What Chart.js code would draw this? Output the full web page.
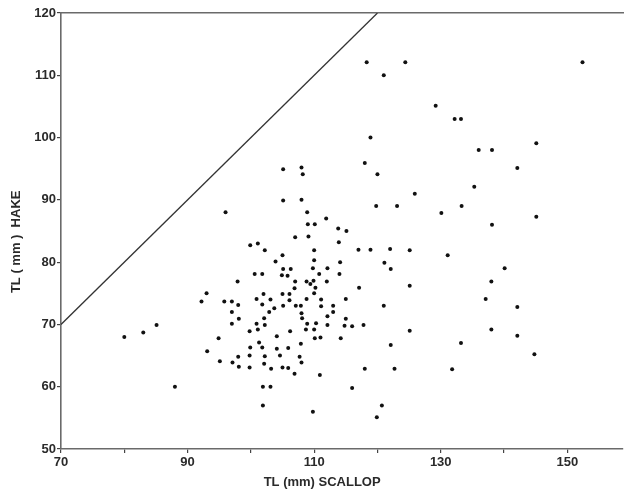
<!DOCTYPE html>
<html lang="en">
<head>
    <meta charset="UTF-8">
    <title>TL Hake vs Scallop</title>
    <script src="https://cdn.jsdelivr.net/npm/chart.js"></script>
    <style>
        html, body { margin: 0; padding: 0; background: #fff; }
        .chart-container { width: 627px; height: 490px; }
    </style>
</head>
<body>
    <div class="chart-container">
        <canvas id="scatterChart" width="627" height="490"></canvas>
    </div>

    <script>
        // scallop total length (x) and hake total length (y), mm
        const scallopTL = [
            118.3, 124.4, 152.4, 121.0, 129.2, 132.2, 133.2, 118.9, 145.1, 136.0,
            138.1, 118.0, 108.0, 105.1, 108.2, 120.0, 142.1, 135.3, 125.9, 105.1,
            108.0, 119.8, 123.1, 133.3, 130.1, 145.1, 96.0, 108.9, 111.9, 109.0,
            110.1, 138.1, 113.8, 115.1, 107.0, 109.1, 113.9, 99.9, 101.1, 102.2,
            110.0, 117.0, 118.9, 122.0, 125.1, 131.1, 105.0, 110.0, 103.9, 114.1,
            121.1, 122.1, 140.1, 100.6, 101.8, 105.1, 106.3, 104.9, 105.8, 109.8,
            110.8, 112.1, 114.0, 97.9, 107.0, 108.8, 109.9, 112.0, 138.0, 109.4,
            106.9, 110.2, 117.1, 125.1, 93.0, 92.2, 95.8, 97.0, 98.0, 100.9,
            102.0, 103.1, 105.0, 106.1, 106.1, 108.8, 110.0, 111.1, 115.0, 137.1,
            101.8, 103.7, 102.9, 105.1, 107.1, 107.9, 111.1, 113.0, 142.1, 121.0,
            97.0, 113.0, 108.0, 108.1, 102.1, 98.1, 112.1, 115.0, 97.0, 100.9,
            102.2, 108.9, 110.3, 112.1, 114.8, 116.0, 117.8, 85.1, 83.0, 80.0,
            99.8, 101.1, 106.2, 108.7, 110.0, 125.1, 138.0, 94.9, 104.1, 110.1,
            111.0, 114.2, 142.1, 101.3, 107.9, 122.1, 133.2, 93.1, 99.9, 101.8,
            104.1, 105.9, 98.0, 99.8, 102.2, 104.6, 107.7, 95.1, 97.1, 102.1,
            108.0, 144.8, 98.1, 99.8, 103.2, 105.0, 105.9, 106.9, 110.9, 118.0,
            122.7, 131.8, 88.0, 101.9, 103.1, 116.0, 101.9, 120.7, 109.8, 119.9
        ];
        const hakeTL = [
            112.1, 112.1, 112.1, 110.0, 105.1, 103.0, 103.0, 100.0, 99.1, 98.0,
            98.0, 95.9, 95.2, 94.9, 94.1, 94.1, 95.1, 92.1, 91.0, 89.9,
            90.0, 89.0, 89.0, 89.0, 87.9, 87.3, 88.0, 88.0, 87.0, 86.1,
            86.1, 86.0, 85.4, 85.0, 84.0, 84.1, 83.2, 82.7, 83.0, 81.9,
            81.9, 82.0, 82.0, 82.1, 81.9, 81.1, 81.1, 80.3, 80.1, 80.0,
            79.9, 78.9, 79.0, 78.1, 78.1, 78.9, 78.9, 77.9, 77.8, 79.0,
            78.1, 79.0, 78.1, 76.9, 76.9, 76.9, 77.0, 76.9, 76.9, 76.5,
            75.8, 75.9, 75.9, 76.2, 75.0, 73.7, 73.7, 73.7, 73.1, 74.1,
            74.9, 74.0, 74.9, 74.9, 73.9, 74.1, 75.0, 74.0, 74.1, 74.1,
            73.2, 72.6, 72.0, 73.0, 73.0, 73.0, 72.9, 73.0, 72.8, 73.0,
            72.0, 72.0, 71.8, 71.0, 71.0, 70.9, 71.3, 70.9, 70.1, 70.1,
            69.9, 70.1, 70.2, 69.9, 69.8, 69.7, 69.9, 69.9, 68.7, 68.0,
            68.9, 69.2, 68.9, 69.2, 69.2, 69.0, 69.2, 67.8, 68.1, 67.8,
            67.9, 67.8, 68.2, 67.1, 66.9, 66.7, 67.0, 65.7, 66.3, 66.3,
            66.1, 66.2, 64.8, 65.0, 64.9, 65.0, 64.8, 64.1, 63.9, 63.7,
            63.9, 65.2, 63.2, 63.1, 62.9, 63.1, 63.0, 62.1, 61.9, 62.9,
            62.9, 62.8, 60.0, 60.0, 60.0, 59.8, 57.0, 57.0, 56.0, 55.1
        ];
        // 1:1 reference line
        const lineX = [70, 120];
        const lineY = [70, 120];

        const xTickLabels = [70, 90, 110, 130, 150];
        const yTickValues = [50, 60, 70, 80, 90, 100, 110, 120];

        const points = scallopTL.map((x, i) => ({ x: x, y: hakeTL[i] }));
        const linePoints = lineX.map((x, i) => ({ x: x, y: lineY[i] }));

        const font = { family: 'Liberation Sans', size: 13, weight: 'bold' };
        const ink = '#2a2a2a';
        const axisGray = '#6a6a6a';

        const ctx = document.getElementById('scatterChart').getContext('2d');
        new Chart(ctx, {
            type: 'scatter',
            data: {
                datasets: [
                    {
                        label: 'fish',
                        data: points,
                        pointRadius: 2,
                        pointBackgroundColor: '#111',
                        pointBorderWidth: 0
                    },
                    {
                        type: 'line',
                        label: '1:1',
                        data: linePoints,
                        borderColor: '#333',
                        borderWidth: 1.3,
                        pointRadius: 0,
                        fill: false
                    }
                ]
            },
            options: {
                responsive: false,
                animation: false,
                layout: { padding: 0 },
                plugins: { legend: { display: false }, tooltip: { enabled: false } },
                scales: {
                    x: {
                        type: 'linear',
                        position: 'bottom',
                        min: 70,
                        max: 158.8,
                        border: { display: true, color: axisGray, width: 1.6 },
                        grid: { drawOnChartArea: false, drawTicks: true, tickLength: 4, color: '#444', lineWidth: 1.2 },
                        ticks: {
                            stepSize: 10,
                            includeBounds: false,
                            color: ink,
                            font: font,
                            padding: 2,
                            maxRotation: 0,
                            autoSkip: false,
                            callback: v => xTickLabels.includes(v) ? String(v) : ''
                        },
                        // trailing spaces nudge the centred title left, as in the original
                        title: { display: true, text: 'TL (mm) SCALLOP           ', color: ink, font: font, padding: { top: 0, bottom: 0 } },
                        afterFit: s => { s.height = 41; }
                    },
                    x2: {
                        type: 'linear',
                        position: 'top',
                        min: 70,
                        max: 158.8,
                        border: { display: true, color: axisGray, width: 1.6 },
                        grid: { drawOnChartArea: false, drawTicks: false },
                        ticks: { display: false },
                        afterFit: s => { s.height = 13; }
                    },
                    y: {
                        min: 50,
                        max: 120,
                        border: { display: true, color: axisGray, width: 1.6 },
                        grid: { drawOnChartArea: false, drawTicks: true, tickLength: 4, color: '#444', lineWidth: 1.2 },
                        ticks: {
                            stepSize: 10,
                            color: ink,
                            font: font,
                            padding: 1,
                            callback: v => yTickValues.includes(v) ? String(v) : ''
                        },
                        title: { display: true, text: 'TL ( mm )  HAKE      ', color: ink, font: font, padding: { top: 9, bottom: 4 } },
                        afterFit: s => { s.width = 61; }
                    }
                }
            }
        });
    </script>
</body>
</html>
